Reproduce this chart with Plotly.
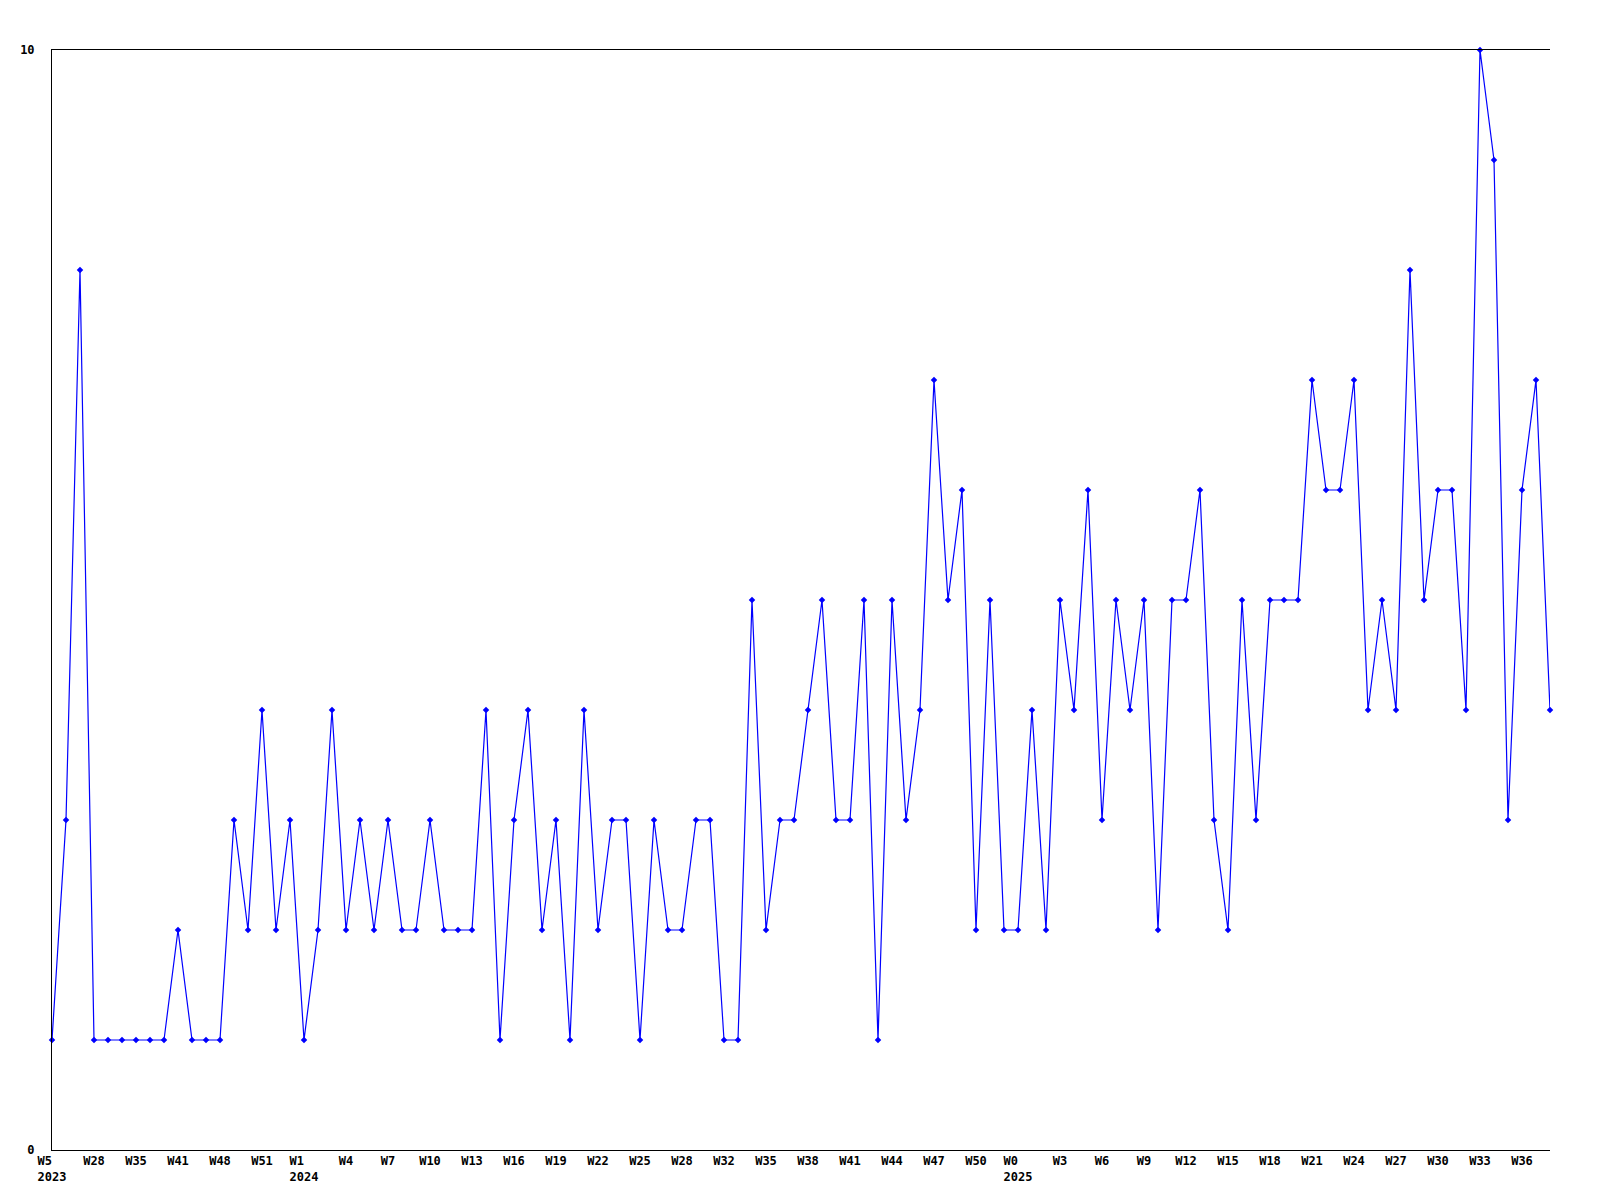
import plotly.graph_objects as go

values = [1, 3, 8, 1, 1, 1, 1, 1, 1, 2, 1, 1, 1, 3, 2, 4, 2, 3, 1, 2,
          4, 2, 3, 2, 3, 2, 2, 3, 2, 2, 2, 4, 1, 3, 4, 2, 3, 1, 4, 2,
          3, 3, 1, 3, 2, 2, 3, 3, 1, 1, 5, 2, 3, 3, 4, 5, 3, 3, 5, 1,
          5, 3, 4, 7, 5, 6, 2, 5, 2, 2, 4, 2, 5, 4, 6, 3, 5, 4, 5, 2,
          5, 5, 6, 3, 2, 5, 3, 5, 5, 5, 7, 6, 6, 7, 4, 5, 4, 8, 5, 6,
          6, 4, 10, 9, 3, 6, 7, 4]

NB = "\u00a0"
tick_labels = ["W5" + NB * 2 + "<br>2023", "W28", "W35", "W41", "W48", "W51",
               "W1" + NB * 2 + "<br>2024", "W4", "W7", "W10", "W13", "W16",
               "W19", "W22", "W25", "W28", "W32", "W35", "W38", "W41", "W44",
               "W47", "W50", "W0" + NB * 2 + "<br>2025", "W3", "W6", "W9",
               "W12", "W15", "W18", "W21", "W24", "W27", "W30", "W33", "W36"]
tick_step = 3

x = list(range(len(values)))
tick_pos = [i * tick_step for i in range(len(tick_labels))]

font = dict(family="DejaVu Sans Mono", size=12, color="black", weight="bold")

fig = go.Figure(go.Scatter(
    x=x, y=values, mode="lines+markers",
    line=dict(color="#0000ff", width=1.2),
    marker=dict(symbol="diamond", size=5, color="#0000ff"),
    cliponaxis=False,
))

fig.update_layout(
    width=1600, height=1200,
    margin=dict(l=42, r=58, t=42, b=58),
    plot_bgcolor="white", paper_bgcolor="white",
    showlegend=False,
    font=font,
)
fig.update_xaxes(range=[0, len(values) - 1], tickvals=tick_pos, ticktext=tick_labels,
                 showgrid=False, zeroline=False, showline=True, linecolor="black",
                 linewidth=1, mirror=True, ticks="", tickfont=font, tickangle=0)
fig.update_yaxes(range=[0, 10], tickvals=[0, 10], showgrid=False, zeroline=False,
                 showline=True, linecolor="black", linewidth=1, ticks="",
                 tickfont=font, ticklabelstandoff=14)

fig.write_html("out.html")
